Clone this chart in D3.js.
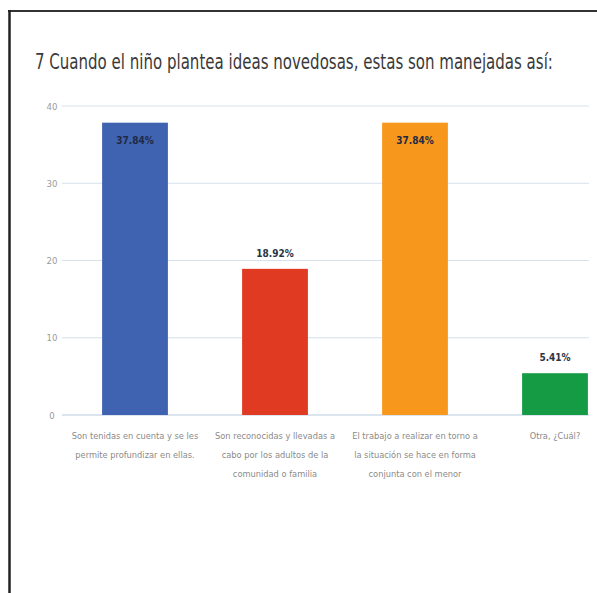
<!DOCTYPE html>
<html>
<head>
<meta charset="utf-8">
<script src="https://cdn.jsdelivr.net/npm/d3@7"></script>
<style>
  html, body { margin: 0; padding: 0; background: #fff; }
  svg { display: block; }
</style>
</head>
<body>
<svg id="chart" width="597" height="593"></svg>
<script>
var titleText = "7 Cuando el niño plantea ideas novedosas, estas son manejadas así:";
var categories = [
  ["Son tenidas en cuenta y se les", "permite profundizar en ellas."],
  ["Son reconocidas y llevadas a", "cabo por los adultos de la", "comunidad o familia"],
  ["El trabajo a realizar en torno a", "la situación se hace en forma", "conjunta con el menor"],
  ["Otra, ¿Cuál?"]
];
var values = [37.84, 18.92, 37.84, 5.41];
var valueLabels = ["37.84%", "18.92%", "37.84%", "5.41%"];
var barColors = ["#3f63b0", "#e03a22", "#f7981d", "#169b45"];
var yTicks = [0, 10, 20, 30, 40];

var svg = d3.select("#chart");
var font = "'DejaVu Sans Condensed', 'Liberation Sans Narrow', 'Roboto', sans-serif";

// frame
svg.append("line").attr("x1", 8).attr("x2", 597).attr("y1", 11).attr("y2", 11)
  .style("stroke", "#333").style("stroke-width", 2);
svg.append("line").attr("x1", 9.5).attr("x2", 9.5).attr("y1", 10).attr("y2", 593)
  .style("stroke", "#222").style("stroke-width", 2.5);

// title, squeezed horizontally to the reference width
var title = svg.append("text")
  .attr("x", 0).attr("y", 0)
  .style("font-family", font).style("font-size", "21px").style("fill", "#3a3a3a")
  .text(titleText);
var tw = title.node().getComputedTextLength();
title.attr("transform", "translate(35,69) scale(" + (518 / tw) + ",1)");

var x = d3.scaleBand().domain(d3.range(values.length)).range([65, 625]).paddingInner(0.53).paddingOuter(0.265);
var y = d3.scaleLinear().domain([0, 40]).range([415, 106]);

var canvas = svg.append("g");

// gridlines
canvas.selectAll("line.grid")
  .data(yTicks)
  .enter()
  .append("line")
  .attr("class", "grid")
  .attr("x1", 62).attr("x2", 589)
  .attr("y1", function(d){ return y(d); })
  .attr("y2", function(d){ return y(d); })
  .style("stroke", function(d){ return d == 0 ? "#b9cbe0" : "#d5e1ec"; })
  .style("stroke-width", 1.2);

var yAxis = d3.axisLeft(y).tickValues(yTicks).tickSize(0).tickPadding(0);
var gY = canvas.append("g").attr("transform", "translate(52,0)").call(yAxis);
gY.select(".domain").remove();
gY.selectAll("text")
  .style("font-family", font).style("font-size", "9.5px").style("fill", "#9a9a9a")
  .attr("text-anchor", "middle");

// bars
canvas.selectAll("rect.bar")
  .data(values)
  .enter()
  .append("rect")
  .attr("class", "bar")
  .attr("x", function(d, i){ return x(i); })
  .attr("width", x.bandwidth())
  .attr("y", function(d){ return y(d); })
  .attr("height", function(d){ return y(0) - y(d); })
  .style("fill", function(d, i){ return barColors[i]; });

// value labels: inside tall bars, above short ones
canvas.selectAll("text.val")
  .data(values)
  .enter()
  .append("text")
  .attr("class", "val")
  .attr("x", function(d, i){ return x(i) + x.bandwidth() / 2; })
  .attr("y", function(d){ return d > 30 ? y(d) + 21 : y(d) - 12; })
  .attr("text-anchor", "middle")
  .style("font-family", font).style("font-size", "10px").style("font-weight", "bold")
  .style("fill", function(d){ return d > 30 ? "#1f2a44" : "#2b3445"; })
  .text(function(d, i){ return valueLabels[i]; });

// category labels
var catG = canvas.selectAll("g.cat")
  .data(categories)
  .enter()
  .append("g")
  .attr("class", "cat")
  .attr("transform", function(d, i){ return "translate(" + (x(i) + x.bandwidth() / 2) + ",0)"; });

catG.selectAll("text")
  .data(function(d){ return d; })
  .enter()
  .append("text")
  .attr("x", 0)
  .attr("y", function(d, j){ return 439 + j * 19; })
  .attr("text-anchor", "middle")
  .style("font-family", font).style("font-size", "9.2px").style("fill", "#8a8a8a")
  .text(function(d){ return d; });
</script>
</body>
</html>
